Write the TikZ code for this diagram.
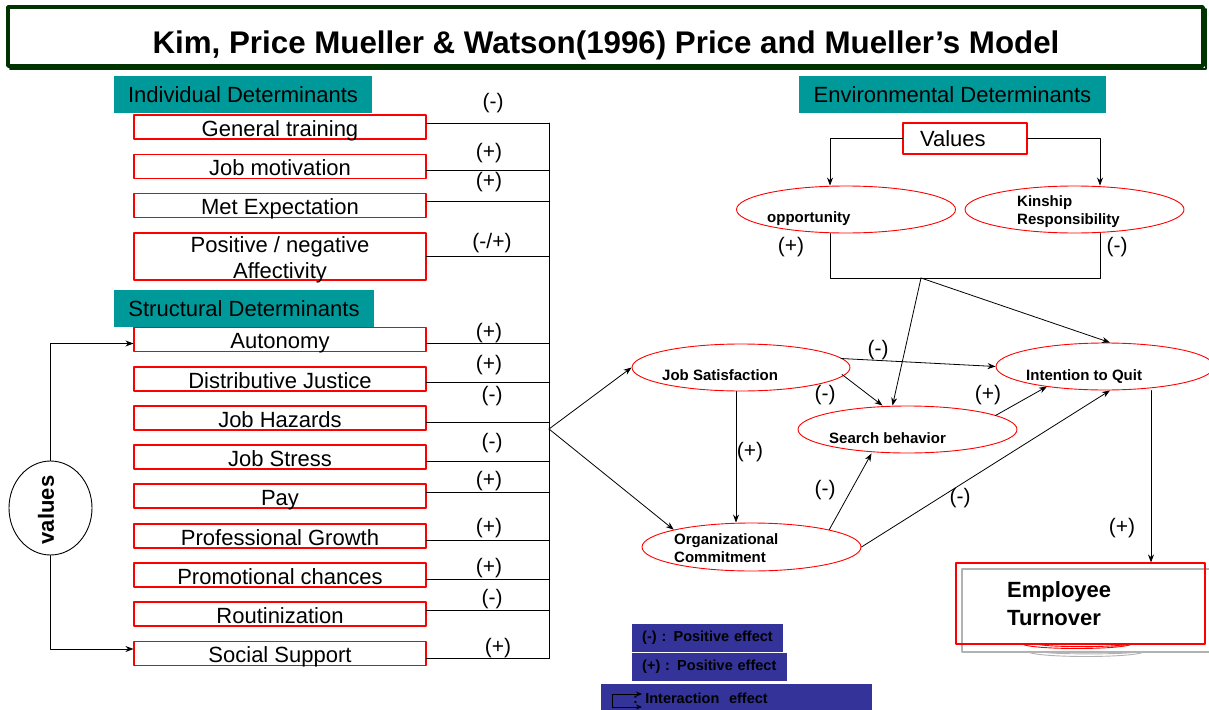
\documentclass[tikz,border=0pt]{standalone}
\usepackage{fontspec}
\setmainfont{Liberation Sans}
\usetikzlibrary{shapes.geometric,arrows.meta}
\definecolor{detteal}{RGB}{0,153,153}
\definecolor{titlegreen}{RGB}{0,51,0}
\definecolor{legblue}{RGB}{51,51,153}
\definecolor{boxred}{RGB}{255,0,0}
\newcommand{\pxfont}[2]{\fontsize{#1}{#2}\selectfont}
\begin{document}
\begin{tikzpicture}[x=1pt,y=-1pt,line cap=round,line join=round,>={Stealth[length=8pt,width=6pt]},
	detframe/.style={draw=boxred,line width=1.1pt,minimum width=292pt,minimum height=24pt,inner sep=0pt,font=\pxfont{22}{26}},
	detbox/.style={detframe,text height=18pt,text depth=0pt},
	headbox/.style={fill=detteal,minimum height=37pt,inner sep=0pt,font=\pxfont{22}{26}},
	oval/.style={ellipse,draw=boxred,line width=0.9pt,minimum width=219pt,minimum height=47pt,inner sep=0pt},
	ovaltext/.style={anchor=west,inner sep=0pt,align=left,font=\bfseries\pxfont{15}{18}},
	ovalline/.style={anchor=base west,inner sep=0pt,font=\bfseries\pxfont{15}{18}},
	sign/.style={inner sep=0pt,font=\pxfont{21}{21}},
	legbox/.style={fill=legblue,anchor=north west,minimum height=28pt,inner ysep=0pt,align=left,font=\bfseries\pxfont{14.5}{16}},
	conn/.style={line width=0.8pt}]
	\useasboundingbox (0,0) rectangle (1209,709);
	% title
	\draw[titlegreen,line width=3.5pt] (8,7) rectangle (1203,66);
	\draw[titlegreen,line width=2pt] (10,68.5) -- (1205.5,68.5) -- (1205.5,9);
	\node[font=\bfseries\pxfont{31.3}{33}] (title) at (606,45) {Kim, Price Mueller \& Watson(1996) Price and Mueller’s Model};
	% left side
	\node[detbox] (gt) at (280,127) {General training};
	\node[detbox] (jm) at (280,166.5) {Job motivation};
	\node[detbox] (me) at (280,205.5) {Met Expectation};
	\node[detframe,minimum height=47pt] (pna) at (280,256.5) {};
	\node[inner sep=0pt,align=center,font=\pxfont{22}{26}] (pnatext) at (280,260) {Positive / negative\\Affectivity};
	\node[detbox] (aut) at (280,339.5) {Autonomy};
	\node[detbox] (dj) at (280,379) {Distributive Justice};
	\node[detbox] (jh) at (280,418) {Job Hazards};
	\node[detbox] (jst) at (280,457) {Job Stress};
	\node[detbox] (pay) at (280,496) {Pay};
	\node[detbox] (pg) at (280,536) {Professional Growth};
	\node[detbox] (pc) at (280,575) {Promotional chances};
	\node[detbox] (rout) at (280,614) {Routinization};
	\node[detbox] (ss) at (280,653.5) {Social Support};
	\node[headbox,minimum width=258pt] (indhead) at (243,94.5) {Individual Determinants};
	\node[headbox,minimum width=260pt] (strhead) at (244,308.5) {Structural Determinants};
	\coordinate (bustop) at (549,123);
	\coordinate (busbot) at (549,658);
	\coordinate (bus) at (549,429);
	\draw[conn] (bustop) -- (busbot);
	\foreach \n/\s in {gt/4,jm/-3.5,me/4.5,pna/0,aut/-3.5,dj/-3,jh/-4,jst/-4,pay/4,pg/-4,pc/-4,rout/4,ss/-4.5}
		\draw[conn] ([yshift=\s pt]\n.east) -- +(123,0);
	\foreach \x/\y/\t [count=\i] in {493/103/{(-)},489/153/{(+)},489/182/{(+)},492/243/{(-/+)},489/333/{(+)},489/365/{(+)},492/396/{(-)},492/443/{(-)},489/481/{(+)},489/528/{(+)},489/568/{(+)},492/599/{(-)},498/648/{(+)}}
		\node[sign] (lsgn\i) at (\x,\y) {\t};
	% values
	\node[ellipse,draw,line width=0.9pt,minimum width=83pt,minimum height=94pt,inner sep=0pt] (valov) at (50.5,508) {};
	\node[rotate=90,inner sep=0pt,font=\bfseries\pxfont{22}{22}] (valtext) at (46,510) {values};
	\draw[conn,->] (valov.north) |- ([yshift=-4pt]aut.west);
	\draw[conn,->] (valov.south) |- ([yshift=4.5pt]ss.west);
	% environment
	\node[headbox,minimum width=307pt] (envhead) at (952.5,94.5) {Environmental Determinants};
	\node[draw=boxred,line width=1.1pt,minimum height=31pt,text width=90pt,inner xsep=17pt,inner ysep=0pt,align=left,font=\pxfont{22}{26}] (vals) at (965,138.5) {Values};
	\node[oval] (opp) at (846,209.5) {};
	\node[oval] (kin) at (1074.5,209.5) {};
	\node[ovalline] (opptext) at (767,222) {opportunity};
	\node[ovaltext] (kintext) at (1017,212) {Kinship\\Responsibility};
	\draw[conn,->] (vals.west) -| ([xshift=-16pt]opp.north);
	\draw[conn,->] (vals.east) -| ([xshift=25.5pt]kin.north);
	\coordinate (envl) at (830,278);
	\coordinate (envr) at (1100,278);
	\coordinate (envj) at (921,278);
	\draw[conn] (opp.south -| envl) -- (envl) -- (envr) -- (kin.south -| envr);
	% middle
	\node[oval,minimum width=218pt] (js) at (741,367.5) {};
	\node[oval,minimum width=218pt] (itq) at (1105,366.5) {};
	\node[oval] (sb) at (907.5,429.5) {};
	\node[oval,minimum height=48pt] (oc) at (751.5,547) {};
	\node[ovalline] (jstext) at (662,380) {Job Satisfaction};
	\node[ovalline] (itqtext) at (1026,380) {Intention to Quit};
	\node[ovalline] (sbtext) at (829,443) {Search behavior};
	\node[ovaltext] (octext) at (674,548) {Organizational\\Commitment};
	\draw[conn,->] (bus) -- (js.west);
	\draw[conn,->] (bus) -- (oc.north west);
	\draw[conn,->] ([xshift=100pt,yshift=9pt]js.center) -- (itq.west);
	\draw[conn,->] ([xshift=101pt,yshift=-7pt]js.center) -- ([xshift=-25pt]sb.north);
	\draw[conn,->] ([xshift=-5pt]js.south) -- ([xshift=-5pt]js.south |- oc.north);
	\draw[conn,->] (oc.north east) -- ([xshift=-36pt]sb.south);
	\draw[conn,->] (oc.east) -- ([xshift=5pt]itq.south);
	\draw[conn,->] ([xshift=88pt,yshift=14pt]sb.center) -- ([xshift=-58pt,yshift=-20pt]itq.center);
	\draw[conn,->] (envj) -- ([xshift=-15pt]sb.north);
	\draw[conn,->] (envj) -- ([xshift=5pt]itq.north);
	% turnover
	\node[draw=gray!60,line width=1.2pt,minimum width=250pt,minimum height=83pt,inner sep=0pt] (etshade) at (1087,610.5) {};
	\node[draw=boxred,line width=1.1pt,minimum width=249pt,minimum height=81pt,inner sep=0pt] (et) at (1080.5,603.5) {};
	\node[anchor=west,inner sep=0pt,align=left,font=\bfseries\pxfont{22}{28}] (ettext) at (1007,604) {Employee\\Turnover};
	\draw[gray!60,line width=0.9pt] (1028,652) .. controls (1040,658) and (1132,658) .. (1144,652)
		(1043,652) .. controls (1050,654.5) and (1128,654.5) .. (1135,652);
	\draw[boxred,line width=0.9pt] (1022,644) .. controls (1032,650) and (1122,650) .. (1132,644)
		(1037,644) .. controls (1045,647.5) and (1119,647.5) .. (1127,644);
	\draw[conn,->] ([xshift=46pt]itq.south) -- ([xshift=46pt]itq.south |- et.north);
	\foreach \x/\y/\t [count=\i] in {791/247/{(+)},1117/247/{(-)},878/350/{(-)},825/395/{(-)},750/452/{(+)},825/490/{(-)},960/498/{(-)},988/395/{(+)},1122/528/{(+)}}
		\node[sign] (rsgn\i) at (\x,\y) {\t};
	% legend
	\node[legbox,minimum width=151pt,text width=131pt,inner xsep=10pt] (leg1) at (632,624) {(-) : Positive effect};
	\node[legbox,minimum width=155pt,text width=135pt,inner xsep=10pt] (leg2) at (632,653) {(+) : Positive effect};
	\node[legbox,minimum width=271pt,text width=207pt,inner xsep=32pt] (leg3) at (601,684) {: Interaction~ effect};
	\draw[line width=1pt,{Stealth[length=6pt,width=5pt]}-{Stealth[length=6pt,width=5pt]}] (642,694) -| (612,707) -- (642,707);
\end{tikzpicture}
\end{document}
